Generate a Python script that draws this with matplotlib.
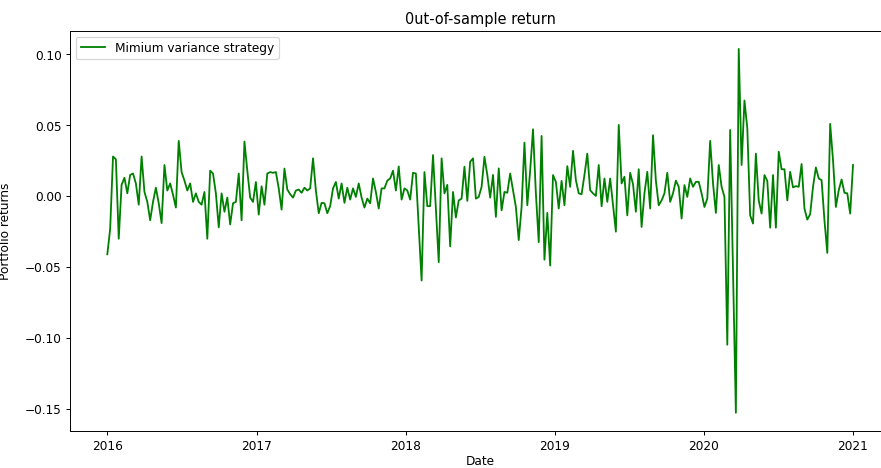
import matplotlib
matplotlib.use("Agg")
import matplotlib.pyplot as plt
import pandas as pd
import numpy as np

# Weekly out-of-sample returns
ret_a = [-0.041, -0.023, 0.028, 0.026, -0.030, 0.008, 0.013, 0.002, 0.015, 0.016,
         0.009, -0.006, 0.028, 0.003, -0.004, -0.017, -0.004, 0.006, -0.005, -0.019,
         0.022, 0.004, 0.009, 0.001, -0.008, 0.039, 0.017, 0.011, 0.004, 0.009,
         -0.004, 0.002, -0.004, -0.006, 0.003, -0.030, 0.018, 0.016, 0.002, -0.022,
         0.002, -0.011, -0.001, -0.020, -0.005, -0.004, 0.016]
ret_b = [-0.017, 0.0385, 0.018, -0.001, -0.004, 0.010, -0.013, 0.007, -0.006, 0.016,
         0.017, 0.0165, 0.017, 0.0055, -0.0095, 0.0195, 0.0047, 0.0014, -0.001, 0.004,
         0.0047, 0.0024, 0.006, 0.004, 0.0055, 0.0267, 0.004, -0.012, -0.0047, -0.005,
         -0.012, -0.007, 0.0055, 0.010, -0.0017, 0.009, -0.0047, 0.006, -0.0024, 0.0055,
         -0.0005, 0.009, -0.001, -0.008, -0.0017, -0.005, 0.0125]
ret_c = [0.003, -0.0087, 0.0055, 0.0055, 0.011, 0.0125, 0.018, 0.004, 0.021, -0.0024,
         0.0055, 0.004, -0.0024, 0.0165, 0.016, -0.022, -0.0595, 0.017, -0.007, -0.007,
         0.029, -0.0085, -0.0465, 0.0267, 0.002, 0.008, -0.0354, 0.003, -0.015, -0.003,
         -0.0017, 0.0208, -0.0033, 0.0243, 0.0267, -0.0017, -0.0005, 0.0066, 0.0278, 0.015,
         -0.001, 0.015, -0.0146, 0.0196, -0.010, 0.003, 0.0024, 0.016]
ret_d = [0.004, -0.0076, -0.031, -0.0076, 0.0378, -0.0064, 0.018, 0.0472, 0.002, -0.0324,
         0.0425, -0.0448, -0.0118, -0.0489, 0.0149, 0.0101, -0.0087, 0.0108, -0.0064, 0.0212,
         0.0066, 0.032, 0.0113, 0.002, 0.0014, 0.0149, 0.030, 0.0042, 0.002, 0.0002,
         0.022, -0.0071, 0.0125, -0.004, 0.0125, -0.0064, -0.025, 0.0503, 0.009, 0.0137,
         -0.0135, 0.0165, 0.0085, -0.011, 0.019, -0.0217, 0.002, 0.0172]
ret_e = [-0.0087, 0.043, 0.011, -0.0064, -0.003, 0.002, 0.0165, -0.004, 0.002, 0.011,
         0.0066, -0.0158, 0.0078, -0.0005, 0.0125, 0.0066, 0.0101, 0.0101, 0.002, -0.0076,
         -0.0017, 0.039, 0.009, -0.0118, 0.022, 0.0066, -0.0005, -0.1048, 0.0467, -0.055,
         -0.1528, 0.1039, 0.022, 0.0675, 0.048, -0.0135, -0.0193, 0.030, -0.003, -0.0123]
ret_f = [0.0149, 0.0108, -0.0222, 0.0149, -0.0222, 0.0314, 0.019, 0.019, -0.003, 0.0172,
         0.0062, 0.0071, 0.0066, 0.0227, -0.0087, -0.0165, -0.0127, 0.0066, 0.0203, 0.0125,
         0.0113, -0.017, -0.040, 0.051, 0.0255, -0.0076, 0.0042, 0.0118, 0.0024, 0.002,
         -0.0123, 0.022]

returns = ret_a + ret_b + ret_c + ret_d + ret_e + ret_f
start_date = "2016-01-01"
dates = pd.date_range(start_date, periods=len(returns), freq="7D")

series_label = "Mimium variance strategy"
title = "0ut-of-sample return"
xlabel = "Date"
ylabel = "Portfolio returns"

DPI = 87
fig = plt.figure(figsize=(881.3 / DPI, 468.3 / DPI), dpi=DPI)
# axes extends past the right edge (reference image is cropped)
ax = fig.add_axes([70 / 881, 37 / 468, 820 / 881, 400 / 468])
ax.plot(dates, returns, color="green", linewidth=1.5, label=series_label)
ax.set_title(title)
ax.set_xlabel(xlabel, labelpad=2)
ax.set_ylabel(ylabel)
ax.yaxis.set_label_coords(-0.071, 0.5)
ax.legend(loc="upper left")

fig.savefig("out.png", dpi=DPI)
